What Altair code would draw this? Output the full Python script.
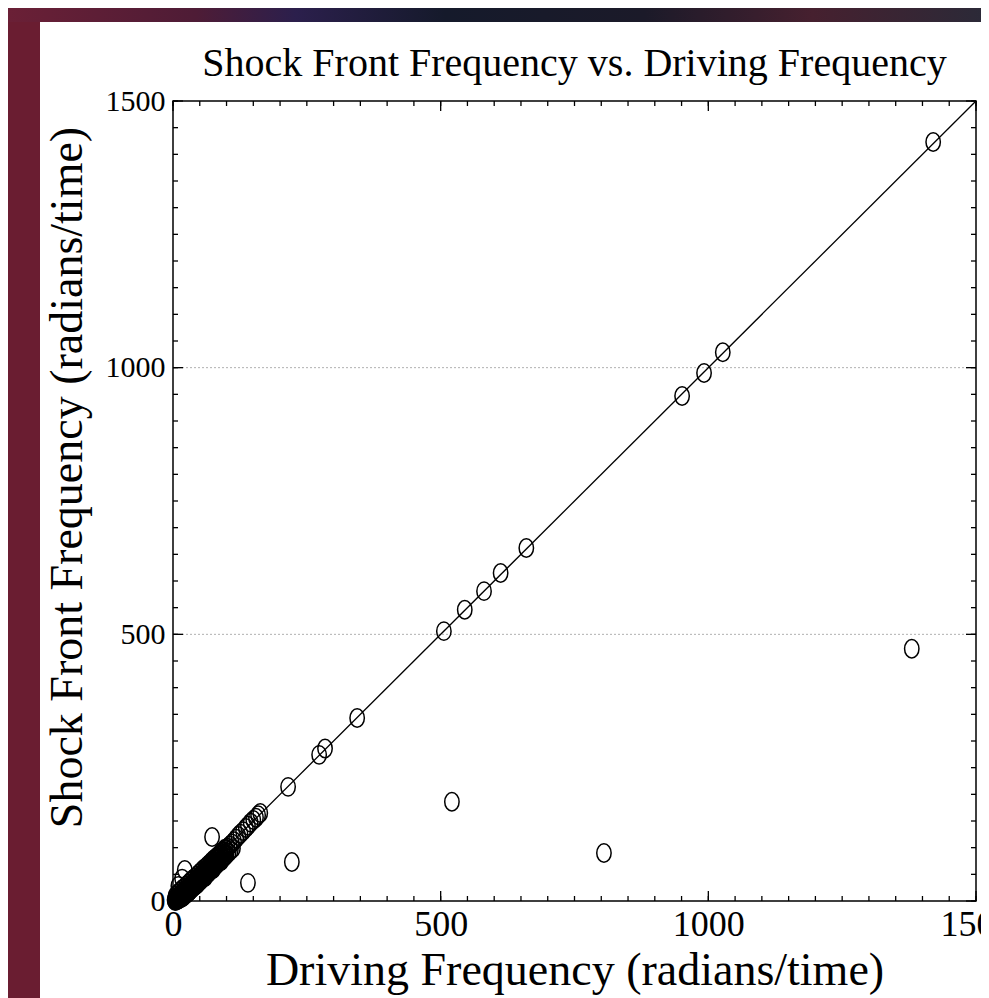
import altair as alt
import pandas as pd

# Main points
px = [1420, 1027, 992, 951, 660, 612, 581, 545, 506, 344, 284, 273, 215,
      1380, 521, 805, 222, 140, 73, 22, 17, 10]
py = [1423, 1029, 990, 947, 662, 615, 581, 546, 506, 343, 286, 274, 214,
      473, 186, 90, 73, 34, 120, 58, 42, 28]

# Dense cluster near origin
cx = [3, 4, 5, 6, 7, 8, 9, 10, 11, 12, 13, 14, 15, 16, 17, 18, 19, 20, 21, 22,
      24, 25, 27, 28, 30, 31, 33, 35, 36, 38, 40, 42, 44, 45, 47, 49, 51, 53, 55, 57,
      59, 61, 63, 65, 67, 69, 71, 73, 75, 77, 79, 81, 83, 85, 88, 90, 93, 96, 99, 102,
      106, 110, 114, 118, 122, 126, 131, 136, 140, 145, 150, 155, 159, 163,
      25, 30, 35, 45, 50, 60, 65, 75, 80, 90]
cy = [2, 5, 3, 6, 4, 7, 5, 8, 7, 10, 8, 12, 10, 13, 11, 15, 13, 17, 16, 18,
      20, 22, 23, 25, 26, 28, 29, 31, 33, 34, 36, 38, 40, 41, 43, 45, 47, 49, 51, 53,
      55, 57, 59, 61, 63, 65, 67, 69, 71, 73, 75, 78, 80, 82, 85, 87, 90, 93, 97, 100,
      104, 108, 112, 117, 122, 126, 131, 137, 141, 147, 152, 156, 161, 165,
      15, 18, 25, 32, 40, 45, 52, 60, 70, 75]
# lower row of the cluster band
dx = [4, 6, 8, 10, 12, 14, 16, 18, 20, 22, 24, 26, 28, 30, 32, 34, 36, 38, 40, 42,
      44, 46, 48, 50, 52, 54, 56, 58, 60, 62, 64, 66, 68, 70, 72, 74, 76, 78, 80, 82,
      84, 86, 88, 90, 92, 94, 96, 98, 100, 104, 108, 112]
dy = [0, 1, 2, 3, 4, 5, 6, 7, 9, 11, 13, 14, 16, 18, 20, 22, 24, 26, 28, 29,
      31, 33, 35, 37, 39, 41, 43, 45, 47, 49, 51, 53, 55, 57, 59, 61, 63, 65, 67, 69,
      71, 73, 75, 77, 79, 81, 83, 85, 87, 91, 95, 99]
# upper row of the cluster band
ex = [5, 9, 13, 17, 21, 25, 29, 33, 37, 41, 45, 49, 53, 57, 61, 65, 69, 73, 77, 81,
      85, 89, 93, 97]
ey = [10, 14, 18, 22, 25, 29, 33, 37, 41, 44, 48, 52, 56, 60, 63, 67, 71, 75, 79, 82,
      86, 90, 94, 98]

tick_labels = [0, 500, 1000, 1500]
minor_ticks = list(range(0, 1501, 50))
grid_vals = [500, 1000]
line_x = [0, 1500]
line_y = [0, 1500]

TITLE = "Shock Front Frequency vs. Driving Frequency"
XTITLE = "Driving Frequency (radians/time)"
YTITLE = "Shock Front Frequency (radians/time)"

W, H = 803, 800
PL, PT, PR, PB = 165, 93, 5, 97
FONT = "Liberation Serif"

pts = pd.DataFrame({"x": px + cx + dx + ex, "y": py + cy + dy + ey})
line_df = pd.DataFrame({"x": line_x, "y": line_y})
minor_df = pd.DataFrame({"v": minor_ticks})
major_df = pd.DataFrame({"v": tick_labels})
grid_df = pd.DataFrame({"v": grid_vals})

xs = alt.Scale(domain=[0, 1500], nice=False, zero=False)
ys = alt.Scale(domain=[0, 1500], nice=False, zero=False)

one = alt.Data(values=[{"a": 1}])

top_strip = alt.Chart(one).mark_rect(
    color=alt.LinearGradient(
        gradient="linear", x1=0, x2=1, y1=0, y2=0,
        stops=[alt.GradientStop(color="#6c2036", offset=0),
               alt.GradientStop(color="#4e1c36", offset=0.2),
               alt.GradientStop(color="#2b1f4c", offset=0.3),
               alt.GradientStop(color="#151a2b", offset=0.45),
               alt.GradientStop(color="#1b1a29", offset=0.65),
               alt.GradientStop(color="#46202f", offset=0.82),
               alt.GradientStop(color="#2a2a38", offset=1)])
).encode(x=alt.value(-PL - 10), x2=alt.value(W + PR + 10),
         y=alt.value(-PT - 10), y2=alt.value(-79))

panel = alt.Chart(one).mark_rect(color="white").encode(
    x=alt.value(-133), x2=alt.value(W + PR + 10),
    y=alt.value(-79), y2=alt.value(H + PB + 10),
)

title = alt.Chart(one).mark_text(
    text=TITLE, font=FONT, fontSize=40, color="black", align="center", baseline="alphabetic"
).encode(x=alt.value(W / 2), y=alt.value(-25))

grid = alt.Chart(grid_df).mark_rule(color="#b0b0b0", strokeDash=[2, 2], strokeWidth=1).encode(
    y=alt.Y("v:Q", scale=ys)
)

diag = alt.Chart(line_df).mark_line(color="black", strokeWidth=1.3).encode(
    x=alt.X("x:Q", scale=xs,
            axis=alt.Axis(values=tick_labels, format="d", ticks=False, domain=False, grid=False,
                          labelFont=FONT, labelFontSize=36, labelColor="black",
                          labelPadding=6, labelFlush=False, zindex=1,
                          title=XTITLE,
                          titleFont=FONT, titleFontSize=46, titleFontWeight="normal",
                          titleColor="black", titlePadding=6)),
    y=alt.Y("y:Q", scale=ys,
            axis=alt.Axis(values=tick_labels, format="d", ticks=False, domain=False, grid=False,
                          labelFont=FONT, labelFontSize=30, labelColor="black",
                          labelPadding=8, labelFlush=False, zindex=1,
                          title=YTITLE, titleY=376,
                          titleFont=FONT, titleFontSize=46, titleFontWeight="normal",
                          titleColor="black", titlePadding=14)),
)

ellipse = "M0,-1 A0.78,1 0 1,1 0,1 A0.78,1 0 1,1 0,-1 Z"
points = alt.Chart(pts).mark_point(shape=ellipse, filled=False, color="black",
                                   strokeWidth=1.5, size=340, opacity=1).encode(
    x=alt.X("x:Q", scale=xs), y=alt.Y("y:Q", scale=ys)
)

def xticks(df, length):
    bot = alt.Chart(df).mark_rule(color="black", strokeWidth=1.3).encode(
        x=alt.X("v:Q", scale=xs), y=alt.value(H), y2=alt.value(H - length))
    top = alt.Chart(df).mark_rule(color="black", strokeWidth=1.3).encode(
        x=alt.X("v:Q", scale=xs), y=alt.value(0), y2=alt.value(length))
    return bot + top

def yticks(df, length):
    lft = alt.Chart(df).mark_rule(color="black", strokeWidth=1.3).encode(
        y=alt.Y("v:Q", scale=ys), x=alt.value(0), x2=alt.value(length))
    rgt = alt.Chart(df).mark_rule(color="black", strokeWidth=1.3).encode(
        y=alt.Y("v:Q", scale=ys), x=alt.value(W), x2=alt.value(W - length))
    return lft + rgt

frame = alt.Chart(one).mark_rect(filled=False, stroke="black", strokeWidth=1.5).encode(
    x=alt.value(0), x2=alt.value(W), y=alt.value(0), y2=alt.value(H)
)

chart = alt.layer(
    top_strip, panel, title, grid, diag, points,
    xticks(minor_df, 5), xticks(major_df, 10),
    yticks(minor_df, 5), yticks(major_df, 10),
    frame,
).properties(
    width=W, height=H,
    padding={"left": PL, "top": PT, "right": PR, "bottom": PB},
    autosize=alt.AutoSizeParams(type="none"),
    background="#6a1d31",
).configure_view(stroke=None, fill=None)

chart.save("out.html", embed_options={"renderer": "svg", "actions": False})
